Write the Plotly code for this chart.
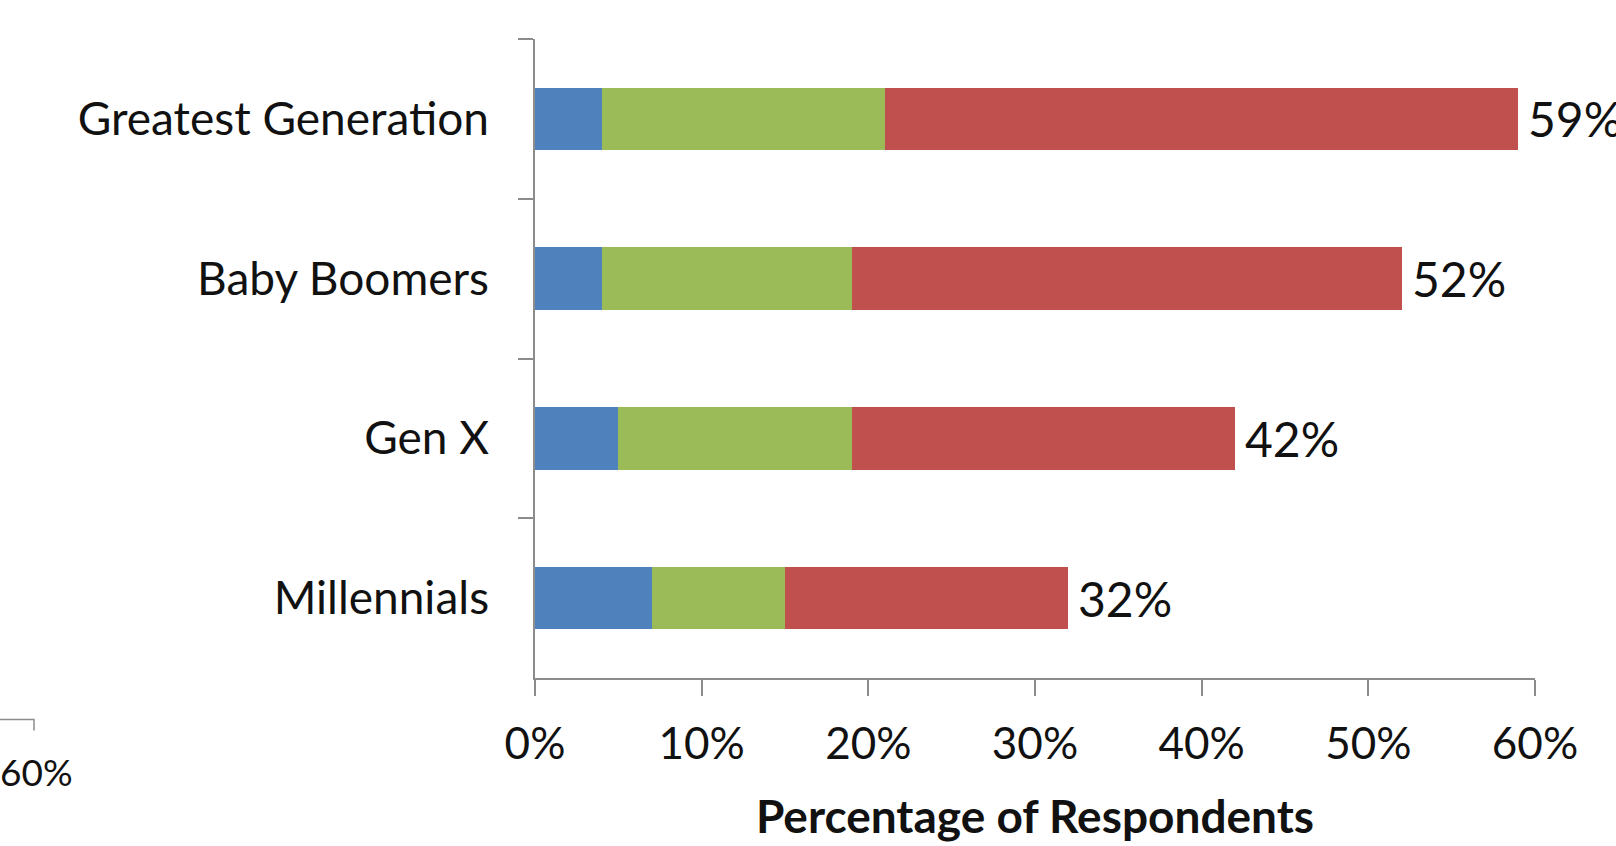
import plotly.graph_objects as go

# Survey results by generation (share of respondents, %)
generations = ["Greatest Generation", "Baby Boomers", "Gen X", "Millennials"]
segment_a = [4, 4, 5, 7]        # blue
segment_b = [17, 15, 14, 8]     # green
segment_c = [38, 33, 23, 17]    # red
totals = [59, 52, 42, 32]
x_ticks = [0, 10, 20, 30, 40, 50, 60]
x_tick_labels = ["0%", "10%", "20%", "30%", "40%", "50%", "60%"]

colors = ["#4F81BD", "#9BBB59", "#C0504D"]
font_family = "Lato, 'Open Sans', sans-serif"
axis_color = "#8C8C8C"

fig = go.Figure()
for vals, col in zip([segment_a, segment_b, segment_c], colors):
    fig.add_trace(go.Bar(
        y=generations, x=vals, orientation="h",
        marker=dict(color=col, line=dict(width=0)),
        hoverinfo="skip", showlegend=False,
    ))

# Total labels at the end of each stacked bar
annotations = [
    dict(x=t, y=g, xref="x", yref="y", text=f"{t}%", showarrow=False,
         xanchor="left", yanchor="middle", xshift=8,
         font=dict(family=font_family, size=48, color="#111111"))
    for g, t in zip(generations, totals)
]

# Fragment of a neighbouring axis at the lower-left edge
plot_h = 846 - 39 - 161
annotations.append(dict(
    x=-0.537, y=(685 - 780) / plot_h, xref="paper", yref="paper", text="60%",
    showarrow=False, xanchor="left", yanchor="middle",
    font=dict(family=font_family, size=37, color="#111111")))
shapes = [dict(type="path", xref="paper", yref="paper",
               path="M -0.54 %f L -0.501 %f L -0.501 %f" % (
                   (685 - 727) / plot_h, (685 - 727) / plot_h, (685 - 738) / plot_h),
               line=dict(color=axis_color, width=1.5))]

fig.update_layout(
    width=1616, height=846,
    margin=dict(l=535, r=81, t=39, b=161),
    paper_bgcolor="white", plot_bgcolor="white",
    barmode="stack", bargap=0.61,
    annotations=annotations, shapes=shapes,
    font=dict(family=font_family, color="#111111"),
    xaxis=dict(
        range=[0, 60], tickvals=x_ticks, ticktext=x_tick_labels,
        showgrid=False, zeroline=False,
        showline=True, linecolor=axis_color, linewidth=1.5,
        ticks="outside", ticklen=16, tickwidth=1.5, tickcolor=axis_color,
        ticklabelstandoff=10,
        tickfont=dict(size=44, color="#111111"),
        title=dict(text="<b>Percentage of Respondents</b>",
                   font=dict(size=46, color="#111111"), standoff=34),
    ),
    yaxis=dict(
        autorange="reversed", showgrid=False, zeroline=False,
        showline=True, linecolor=axis_color, linewidth=1.5,
        ticks="outside", ticklen=15, tickwidth=1.5, tickcolor=axis_color,
        tickson="boundaries", ticklabelstandoff=35,
        tickfont=dict(size=46, color="#111111"),
    ),
)

fig.write_html("out.html")
